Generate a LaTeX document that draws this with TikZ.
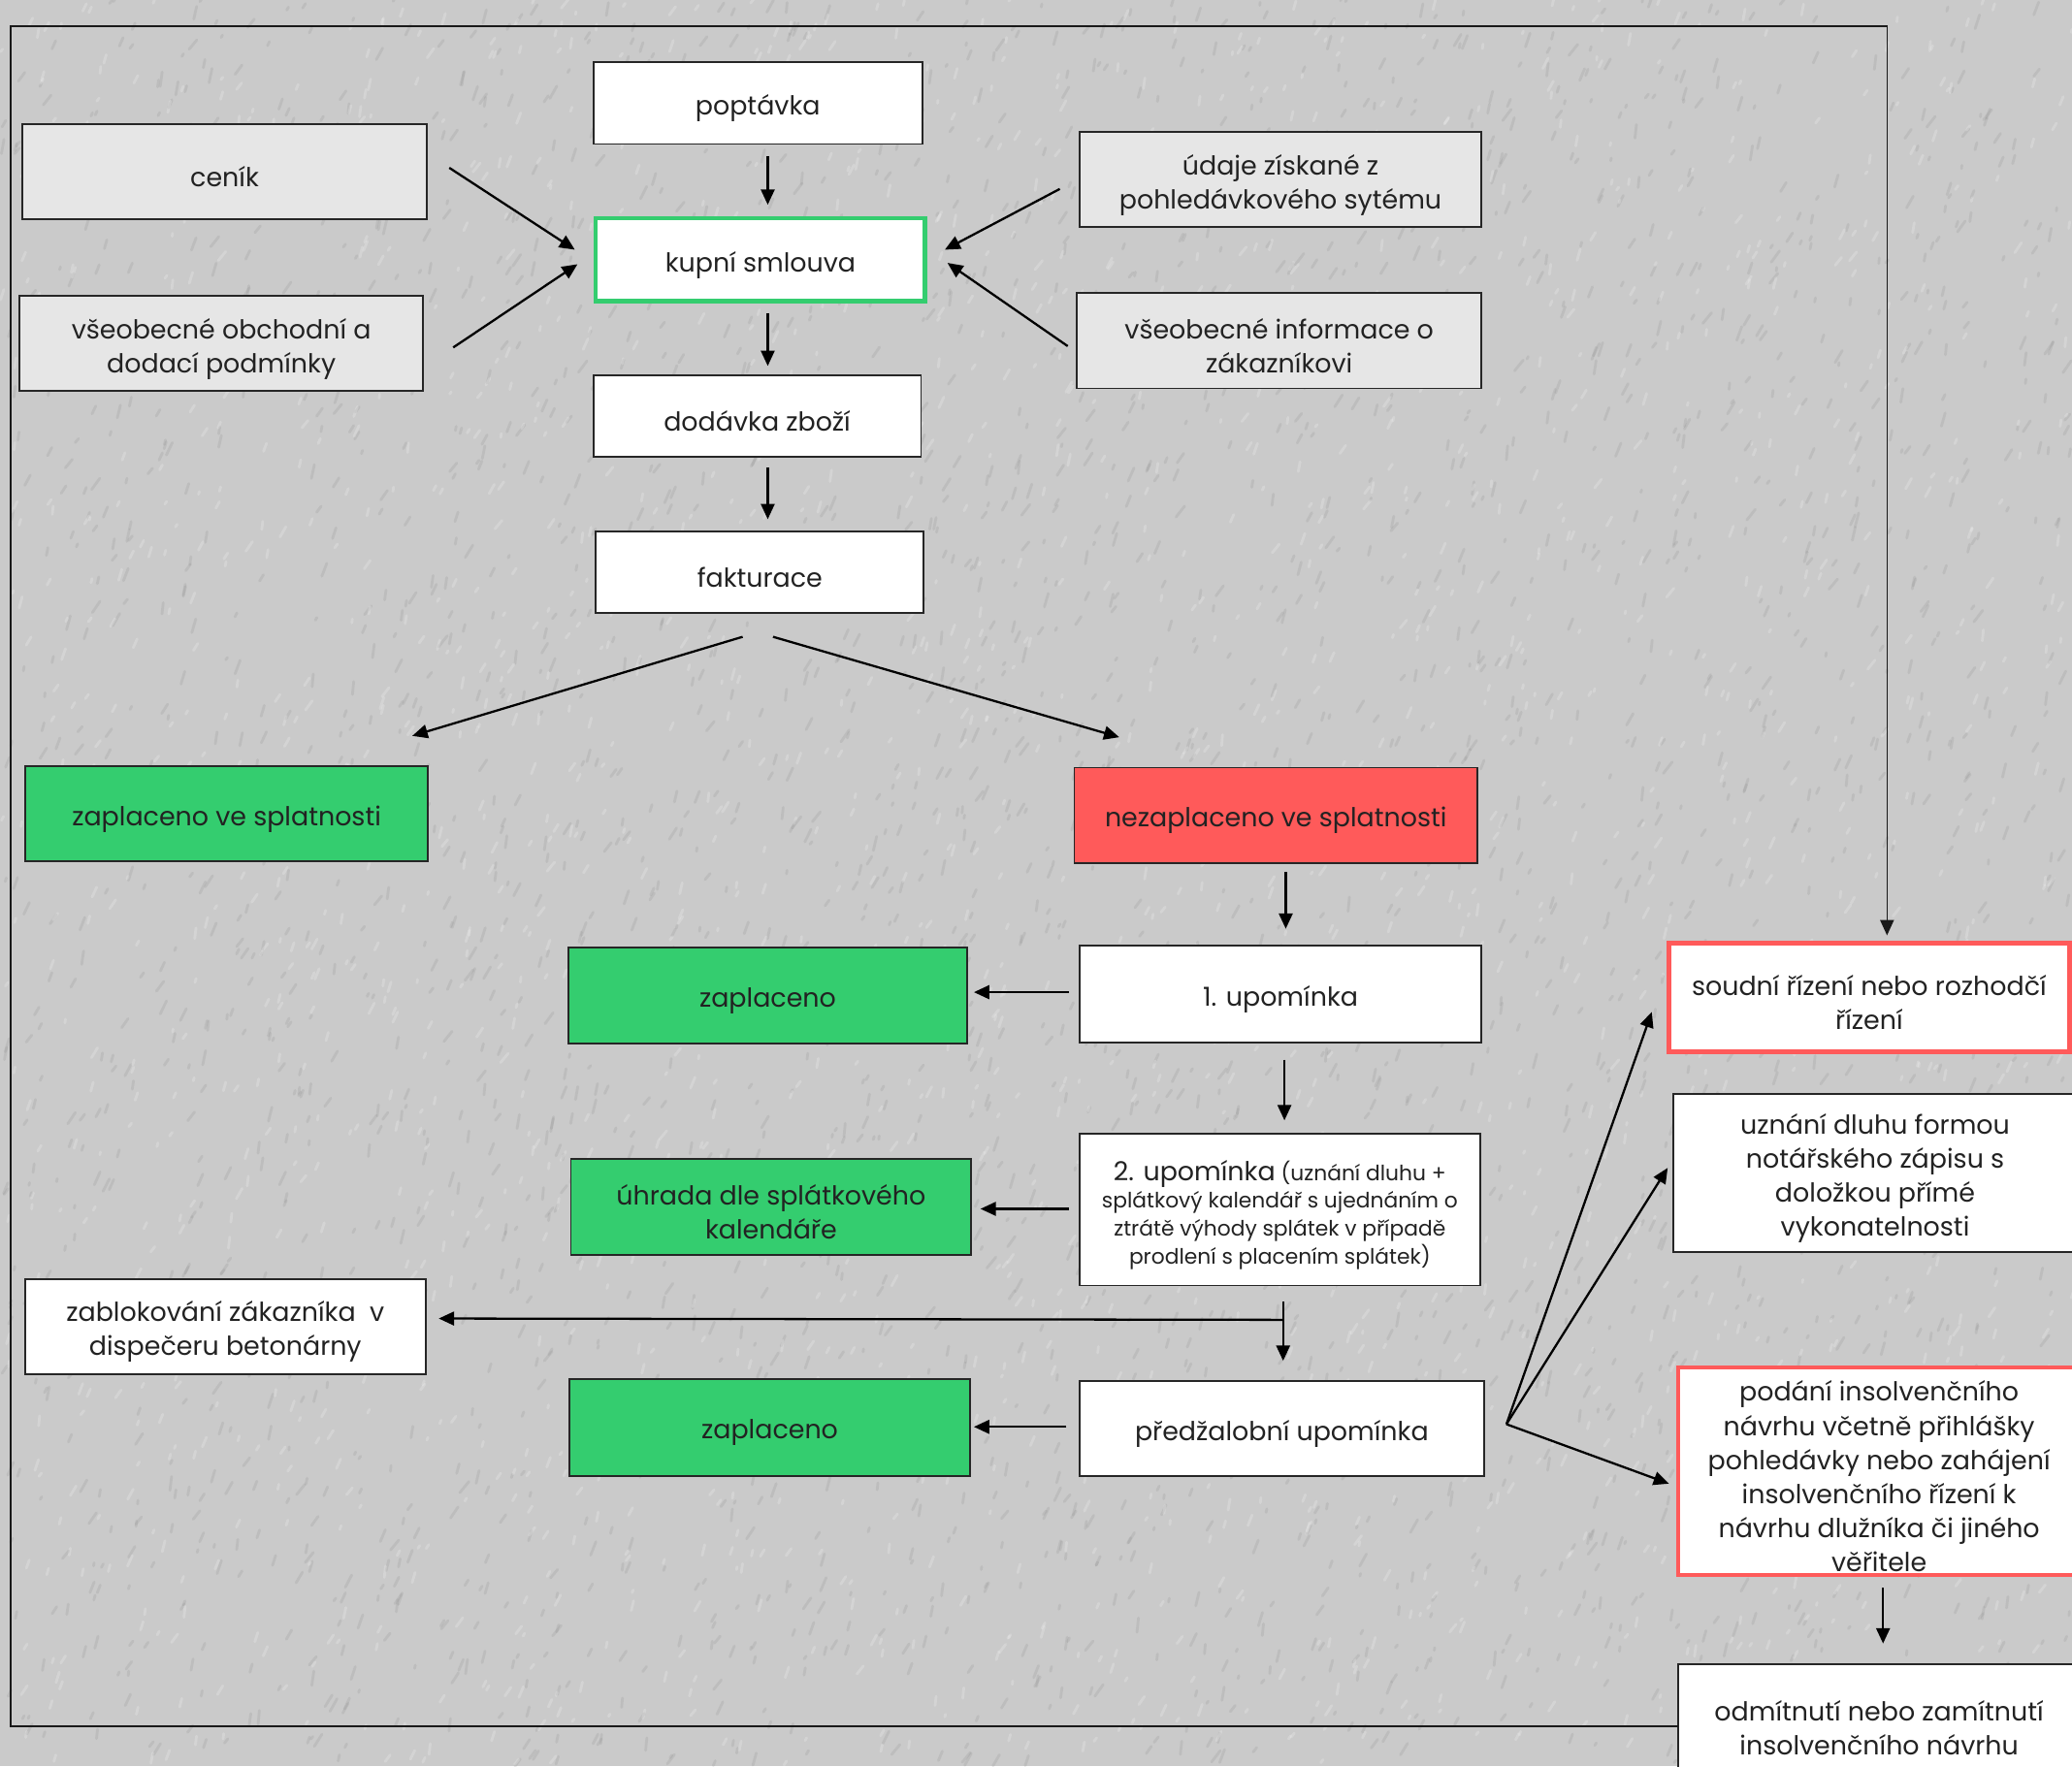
\documentclass[tikz,border=0pt]{standalone}
\usepackage{fontspec}
\setmainfont{Poppins}
\usetikzlibrary{arrows.meta}
\definecolor{bg}{RGB}{202,202,202}
\definecolor{grn}{RGB}{52,205,111}
\definecolor{rd}{RGB}{255,90,90}
\definecolor{lg}{RGB}{230,230,230}
\definecolor{txt}{RGB}{34,34,34}
\newcommand\mybox[7]{%
  \node[#6, minimum width={(#4-#2)*0.027244cm}, minimum height={(#5-#3)*0.027244cm}] (#1) at ({(#2+#4)/2},{(#3+#5)/2}) {};%
  \node[#6, draw=none, fill=none, minimum width=0pt, minimum height=0pt] (#1-t) at ([yshift=-4*0.027244cm]#1.center) {#7};}
\begin{document}
\begin{tikzpicture}[x=0.027244cm,y=-0.027244cm,
  box/.style={draw=black!85, line width=1.1pt, fill=white, inner sep=0pt, outer sep=0pt, align=center, text=txt, font=\fontsize{15.3}{20}\selectfont},
  gbox/.style={box, fill=lg},
  greenbox/.style={box, fill=grn},
  redbox/.style={box, fill=rd},
  redframe/.style={box, draw=rd, line width=2.6pt},
  greenframe/.style={box, draw=grn, line width=2.4pt},
  arr/.style={draw=black, line width=1.3pt, -{Triangle[length=9pt,width=8pt]}},
  frame/.style={draw=black!90, line width=0.9pt, -{Triangle[length=9pt,width=8pt]}},
  grain/.style={line width=1.6pt, line cap=round}]
\path[use as bounding box] (0,0) rectangle (1568,1337);
\fill[bg] (0,0) rectangle (1568,1337);
\clip (0,0) rectangle (1568,1337);
% concrete texture
\pgfmathsetseed{7}
\foreach \i in {1,...,3200}{
  \pgfmathsetmacro\xa{rnd*1568}
  \pgfmathsetmacro\ya{rnd*1337}
  \pgfmathsetmacro\ll{2+rnd*9}
  \pgfmathsetmacro\aa{-50-rnd*35}
  \draw[grain, draw=black!55, opacity=0.14] (\xa,\ya) -- ++(\aa:\ll);
}
\foreach \i in {1,...,2200}{
  \pgfmathsetmacro\xa{rnd*1568}
  \pgfmathsetmacro\ya{rnd*1337}
  \pgfmathsetmacro\ll{2+rnd*7}
  \pgfmathsetmacro\aa{-50-rnd*35}
  \draw[grain, draw=white, opacity=0.2] (\xa,\ya) -- ++(\aa:\ll);
}

\mybox{poptavka}{449}{47}{698}{109}{box}{poptávka}
\mybox{kupni}{451}{165}{700}{228}{greenframe}{kupní smlouva}
\mybox{dodavka}{449}{284}{697}{346}{box}{dodávka zboží}
\mybox{fakturace}{451}{402}{699}{464}{box}{fakturace}
\mybox{cenik}{17}{94}{323}{166}{gbox}{ceník}
\mybox{vop}{15}{224}{320}{296}{gbox}{všeobecné obchodní a\\dodací podmínky}
\mybox{udaje}{817}{100}{1121}{172}{gbox}{údaje získané z\\pohledávkového sytému}
\mybox{info}{815}{222}{1121}{294}{gbox}{všeobecné informace o\\zákazníkovi}
\mybox{zvs}{19}{580}{324}{652}{greenbox}{zaplaceno ve splatnosti}
\mybox{nez}{813}{581}{1118}{653}{redbox}{nezaplaceno ve splatnosti}
\mybox{zap1}{430}{717}{732}{790}{greenbox}{zaplaceno}
\mybox{upom1}{817}{716}{1121}{789}{box}{1. upomínka}
\mybox{uhrada}{432}{877}{735}{950}{greenbox}{úhrada dle splátkového\\kalendáře}
\mybox{upom2}{817}{858}{1120}{973}{box, font=\fontsize{12.4}{16.3}\selectfont}{{\fontsize{15.3}{16.3}\selectfont 2. upomínka} (uznání dluhu +\\splátkový kalendář s ujednáním o\\ztrátě výhody splátek v případě\\prodlení s placením splátek)}
\mybox{zablok}{19}{968}{322}{1040}{box}{zablokování zákazníka\ \ v\\dispečeru betonárny}
\mybox{zap2}{431}{1044}{734}{1117}{greenbox}{zaplaceno}
\mybox{predz}{817}{1045}{1123}{1117}{box}{předžalobní upomínka}
\mybox{soudni}{1263}{714}{1566}{796}{redframe}{soudní řízení nebo rozhodčí\\řízení}
\mybox{uznani}{1266}{828}{1572}{948}{box}{uznání dluhu formou\\notářského zápisu s\\doložkou přímé\\vykonatelnosti}
\mybox{podani}{1270}{1035}{1574}{1192}{redframe}{podání insolvenčního\\návrhu včetně přihlášky\\pohledávky nebo zahájení\\insolvenčního řízení k\\návrhu dlužníka či jiného\\věřitele}
\mybox{odmit}{1270}{1260}{1574}{1348}{box}{odmítnutí nebo zamítnutí\\insolvenčního návrhu}

% main chain
\draw[arr] ([shift={(7.5,9)}]poptavka.south) -- ([shift={(5.5,-10)}]kupni.north);
\draw[arr] ([shift={(5.5,9)}]kupni.south) -- ([shift={(8,-7)}]dodavka.north);
\draw[arr] ([shift={(8,8)}]dodavka.south) -- ([shift={(6,-9)}]fakturace.north);
% inputs to contract
\draw[arr] ([shift={(17,-3)}]cenik.east) -- ([shift={(-16,-7.5)}]kupni.west);
\draw[arr] ([shift={(23,3)}]vop.east) -- ([shift={(-14,3.5)}]kupni.west);
\draw[arr] ([shift={(-15,7)}]udaje.west) -- ([shift={(15,-7.5)}]kupni.east);
\draw[arr] ([shift={(-7,4)}]info.west) -- ([shift={(17,2.5)}]kupni.east);
% payment split
\draw[arr] ([shift={(-13,18)}]fakturace.south) -- ([shift={(140.5,-23)}]zvs.north);
\draw[arr] ([shift={(10,18)}]fakturace.south) -- ([shift={(-118.5,-23)}]nez.north);
% reminders
\draw[arr] ([shift={(7.5,7)}]nez.south) -- ([shift={(4,-13)}]upom1.north);
\draw[arr] ([shift={(-8,-1.5)}]upom1.west) -- ([shift={(5,-2.5)}]zap1.east);
\draw[arr] ([shift={(3,13)}]upom1.south) -- ([shift={(3.5,-10)}]upom2.north);
\draw[arr] ([shift={(-8,-0.5)}]upom2.west) -- ([shift={(7,1.5)}]uhrada.east);
\draw[arr] ([shift={(2.5,12)}]upom2.south) -- ([shift={(1,-15)}]predz.north);
\coordinate (j) at ([shift={(2.5,26)}]upom2.south);
\draw[arr] (j) -- ([shift={(10,-6)}]zablok.east);
\draw[arr] ([shift={(-10,-1)}]predz.west) -- ([shift={(3,-0.5)}]zap2.east);
% fan out
\coordinate (f) at ([shift={(17,-3)}]predz.east);
\draw[arr] (f) -- ([shift={(-13,11)}]soudni.west);
\draw[arr] (f) -- ([shift={(-4,-4)}]uznani.west);
\draw[arr] (f) -- ([shift={(-7,9.5)}]podani.west);
\draw[arr] ([shift={(3,10)}]podani.south) -- ([shift={(3,-16)}]odmit.north);
% outer loop back to court
\draw[frame] ([yshift=-2pt]odmit.west) -| (8,20) -| ([shift={(13.5,-6)}]soudni.north);
\end{tikzpicture}
\end{document}
